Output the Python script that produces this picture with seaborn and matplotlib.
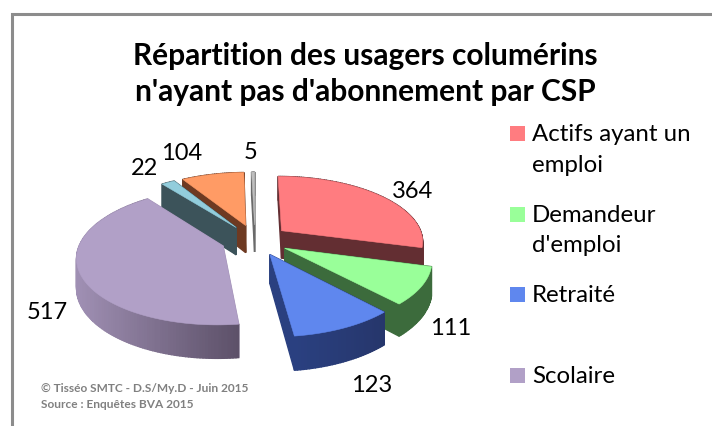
import numpy as np
import seaborn as sns
import matplotlib
matplotlib.use("Agg")
import matplotlib.pyplot as plt

# Data
categories = ["Actifs ayant un\nemploi", "Demandeur\nd'emploi", "Retraité", "Scolaire"]
values = [364, 111, 123, 517, 22, 104, 5]
top_colors = ["#FF7C80", "#99FF99", "#5F87EE", "#B1A0C7", "#92CDDC", "#FF9B65", "#BFBFBF"]
wall_colors = [
    ["#632E32", "#632E32"],
    ["#3C6B3C", "#3C6B3C"],
    ["#2A4080", "#26366B"],
    ["#A090B4", "#5C5068"],
    ["#3C535A", "#3C535A"],
    ["#6E3A22", "#6E3A22"],
    ["#6A6A6A", "#6A6A6A"],
]
title_text = "Répartition des usagers columérins\nn'ayant pas d'abonnement par CSP"
source_lines = ["© Tisséo SMTC - D.S/My.D - Juin 2015", "Source : Enquêtes BVA 2015"]

# Pie projection settings (pixels)
center_x, center_y = 255, 240
radius_x, radius_y = 142, 65
perspective = 0.15
explode = 0.24
depth = 28

# Where the value labels sit relative to the outer middle of each slice
label_offsets = [(32, -5), (29, 42), (27, 58), (-33, 39), (-24, -14), (-31, -21), (-3, -20)]

sns.set_theme(style="white")
plt.rcParams["font.family"] = ["Lato", "DejaVu Sans"]

fig, ax = plt.subplots(figsize=(7.12, 4.26), dpi=100)
fig.subplots_adjust(0, 0, 1, 1)
ax.set_xlim(0, 712)
ax.set_ylim(426, 0)
ax.axis("off")


def project(px, py):
    w = 1 / (1 + perspective * py)
    return center_x + radius_x * px * w, center_y - radius_y * py * w, w


def quad(p0, p1, color, z):
    # one wall: two top points pushed straight down by the depth
    xs = [p0[0], p1[0], p1[0], p0[0]]
    ys = [p0[1], p1[1], p1[1] + depth * p1[2], p0[1] + depth * p0[2]]
    ax.fill(xs, ys, color=color, lw=1, zorder=z)


total = sum(values)
angles = np.cumsum([0] + values) / total * 2 * np.pi
# drawing order, back of the pie first
order = [0, 6, 1, 2, 5, 4, 3]

for rank, i in enumerate(order):
    a0, a1 = angles[i], angles[i + 1]
    mid = (a0 + a1) / 2
    ox, oy = explode * np.sin(mid), explode * np.cos(mid)
    ts = np.linspace(a0, a1, max(int(np.degrees(a1 - a0)), 2) + 1)
    apex = project(ox, oy)
    rim = [project(ox + np.sin(t), oy + np.cos(t)) for t in ts]

    z = 2 + rank * 2
    grad = sns.blend_palette(wall_colors[i], len(ts) - 1)
    xmin = min(p[0] for p in rim)
    xmax = max(p[0] for p in rim)
    walls = [(apex, rim[0], wall_colors[i][0], oy + np.cos(a0) / 2),
             (apex, rim[-1], wall_colors[i][0], oy + np.cos(a1) / 2)]
    for k in range(len(rim) - 1):
        # the shading follows the position along the screen
        pos = ((rim[k][0] + rim[k + 1][0]) / 2 - xmin) / max(xmax - xmin, 1)
        walls.append((rim[k], rim[k + 1], grad[int(pos * (len(grad) - 1))],
                      oy + np.cos((ts[k] + ts[k + 1]) / 2)))
    for p0, p1, col, _ in sorted(walls, key=lambda w: -w[3]):
        quad(p0, p1, col, z)

    ax.fill([apex[0]] + [p[0] for p in rim], [apex[1]] + [p[1] for p in rim],
            color=top_colors[i], lw=0.4, zorder=z + 1)

    out = project(ox + np.sin(mid), oy + np.cos(mid))
    ax.text(out[0] + label_offsets[i][0], out[1] + label_offsets[i][1], str(values[i]),
            fontsize=17, color="black", ha="center", va="center", zorder=30)

# Title
ax.text(365, 74, title_text, fontsize=21.5, fontweight="bold", color="black",
        ha="center", va="center", linespacing=1.38, zorder=30)

# Legend
for row, (label, color) in enumerate(zip(categories, top_colors)):
    top = 126 + row * 80.6
    ax.fill([510, 525, 525, 510], [top, top, top + 15, top + 15], color=color, lw=0, zorder=30)
    ax.text(532, top - 2, label, fontsize=17.3, color="black", ha="left", va="top",
            linespacing=1.57, zorder=30)

# Source note
for line, y in zip(source_lines, [388, 405]):
    ax.text(41, y, line, fontsize=8.6, fontweight="bold", color="#808080",
            ha="left", va="center", zorder=30)

# Grey frame, only its top and left sides are in view
ax.plot([11.5, 11.5, 712], [426, 13.5, 13.5], color="#8C8C8C", lw=2.2,
        solid_joinstyle="miter", zorder=1)

fig.savefig("out.png", dpi=100)
